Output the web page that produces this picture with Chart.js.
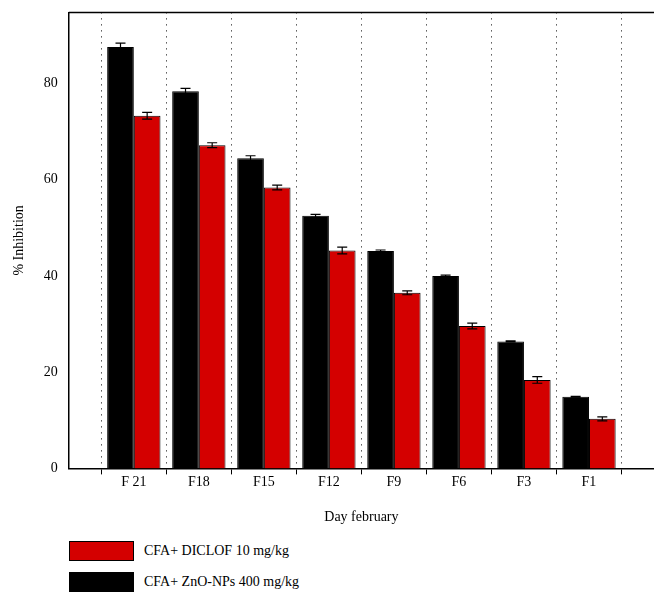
<!DOCTYPE html>
<html><head><meta charset="utf-8">
<script src="https://cdn.jsdelivr.net/npm/chart.js@4"></script>
<style>
body{margin:0;background:#fff;font-family:"Liberation Serif",serif;}
#wrap{position:relative;width:654px;height:530px;}
.lg{position:absolute;left:69px;font-size:14px;display:flex;align-items:center;}
.sw{width:65px;height:20px;border:1px solid #000;margin-right:10px;box-sizing:border-box;}
</style></head><body>
<div id="wrap"><canvas id="c" width="654" height="530"></canvas></div>
<div class="lg" style="top:541px"><div class="sw" style="background:#d40000"></div>CFA+ DICLOF 10 mg/kg</div>
<div class="lg" style="top:572px"><div class="sw" style="background:#000"></div>CFA+ ZnO-NPs 400 mg/kg</div>
<script>
const categories=['F 21','F18','F15','F12','F9','F6','F3','F1'];
const zincValues=[87.6,78.4,64.5,52.5,45.2,40.0,26.4,14.9];
const zincErr=[0.8,0.6,0.5,0.3,0.2,0.2,0.1,0.1];
const diclofValues=[73.3,67.2,58.4,45.3,36.5,29.6,18.4,10.3];
const diclofErr=[0.7,0.5,0.5,0.7,0.4,0.6,0.7,0.4];
const yTicks=[0,20,40,60,80];

const font={family:"Liberation Serif",size:14};
const errPlugin={id:'err',afterDatasetsDraw(ch){
  const ctx=ch.ctx,y=ch.scales.y;
  [[0,zincValues,zincErr],[1,diclofValues,diclofErr]].forEach(([di,v,e])=>{
    ch.getDatasetMeta(di).data.forEach((b,i)=>{
      const t=y.getPixelForValue(v[i]+e[i]),bo=y.getPixelForValue(v[i]-e[i]);
      ctx.save();ctx.strokeStyle='#000';ctx.lineWidth=1.2;ctx.beginPath();
      ctx.moveTo(b.x,t);ctx.lineTo(b.x,bo);
      ctx.moveTo(b.x-5,t);ctx.lineTo(b.x+5,t);
      ctx.moveTo(b.x-5,bo);ctx.lineTo(b.x+5,bo);ctx.stroke();ctx.restore();
    });
  });
  const a=ch.chartArea;ctx.save();ctx.strokeStyle='#000';ctx.lineWidth=1.5;
  ctx.beginPath();ctx.moveTo(a.left,a.top);ctx.lineTo(a.right,a.top);ctx.stroke();ctx.restore();
}};
new Chart(document.getElementById('c'),{
  type:'bar',
  data:{datasets:[
    {label:'CFA+ ZnO-NPs 400 mg/kg',data:zincValues.map((v,i)=>({x:i+1,y:v})),backgroundColor:'#000',borderColor:'#000',borderWidth:1},
    {label:'CFA+ DICLOF 10 mg/kg',data:diclofValues.map((v,i)=>({x:i+1,y:v})),backgroundColor:'#d40000',borderColor:'#000',borderWidth:1}
  ]},
  options:{
    responsive:false,animation:false,
    layout:{padding:{top:2,right:0,left:7,bottom:0}},
    datasets:{bar:{categoryPercentage:0.82,barPercentage:1}},
    plugins:{legend:{display:false},tooltip:{enabled:false}},
    scales:{
      x:{type:'linear',min:0,max:9,position:'bottom',offset:false,
        afterBuildTicks(s){s.ticks=[0.5,1.5,2.5,3.5,4.5,5.5,6.5,7.5,8.5].map(v=>({value:v}));},
        ticks:{display:false},
        grid:{display:true,offset:false,color:'#000',lineWidth:1,tickLength:6,drawTicks:true,
          tickBorderDash:[0],tickColor:'#000'},
        border:{display:true,color:'#000',width:1.5,dash:[1,5]}
      },
      x2:{type:'linear',min:0,max:9,position:'bottom',offset:false,
        afterBuildTicks(s){s.ticks=categories.map((c,i)=>({value:i+1}));},
        ticks:{color:'#000',font,callback:(v)=>categories[v-1],padding:0,maxRotation:0,autoSkip:false},
        grid:{display:false,drawTicks:false,offset:false},border:{display:false},
        title:{display:true,text:'Day february',color:'#000',font,padding:{top:18}}
      },
      y:{min:0,max:94.8,
        afterBuildTicks(s){const t=[];for(let v=0;v<=92;v+=4)t.push({value:v});s.ticks=t;},
        ticks:{color:'#000',font,callback:v=>yTicks.includes(v)?v:'',padding:4},
        grid:{display:false,drawTicks:true,tickLength:7,tickColor:'#000'},
        border:{display:true,color:'#000',width:1.5},
        title:{display:true,text:'% Inhibition',color:'#000',font,padding:{bottom:12}}
      }
    }
  },
  plugins:[errPlugin]
});
</script></body></html>
